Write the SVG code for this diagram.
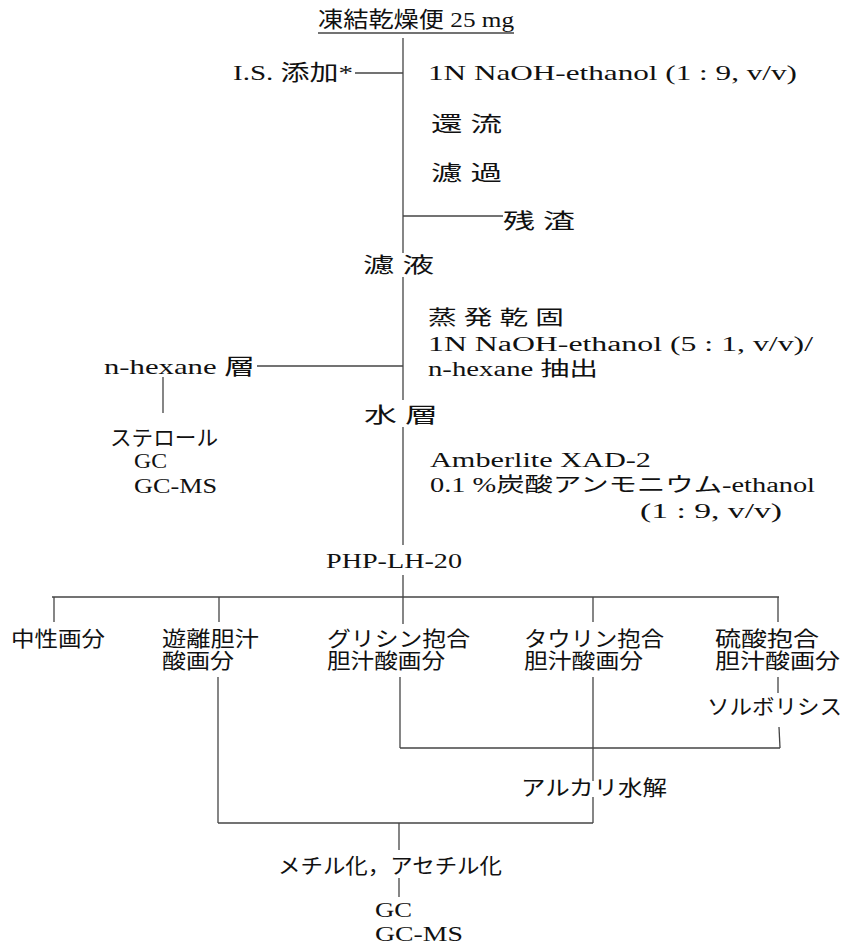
<svg xmlns="http://www.w3.org/2000/svg" width="845" height="947" viewBox="0 0 845 947">
<style>
text{font-family:"Liberation Serif","Noto Sans CJK JP",serif;font-size:22px;fill:#111;}
.j{font-size:21px;}
.s{font-size:20px;}
.c line{stroke:#444;stroke-width:1.3;fill:none;}
</style>
<rect width="845" height="947" fill="#fff"/>
<g id="connectors" class="c">
<line x1="318" y1="33" x2="514" y2="33"/>
<line x1="403" y1="38" x2="403" y2="253"/>
<line x1="355" y1="73" x2="403" y2="73"/>
<line x1="403" y1="216" x2="503" y2="216"/>
<line x1="403" y1="277" x2="403" y2="400"/>
<line x1="257" y1="366" x2="403" y2="366"/>
<line x1="163" y1="377" x2="163" y2="413"/>
<line x1="403" y1="427" x2="403" y2="545"/>
<line x1="403" y1="575" x2="403" y2="597"/>
<line x1="52" y1="597" x2="779" y2="597"/>
<line x1="54" y1="597" x2="54" y2="622"/>
<line x1="219" y1="597" x2="219" y2="622"/>
<line x1="403" y1="597" x2="403" y2="624"/>
<line x1="593" y1="597" x2="593" y2="622"/>
<line x1="778" y1="597" x2="778" y2="622"/>
<line x1="218" y1="677" x2="218" y2="823"/>
<line x1="400" y1="677" x2="400" y2="748"/>
<line x1="593" y1="677" x2="593" y2="781"/>
<line x1="593" y1="797" x2="593" y2="823"/>
<line x1="778" y1="677" x2="778" y2="693"/>
<line x1="779" y1="727" x2="780" y2="748"/>
<line x1="400" y1="748" x2="780" y2="748"/>
<line x1="218" y1="823" x2="593" y2="823"/>
<line x1="399" y1="823" x2="399" y2="850"/>
<line x1="399" y1="878" x2="399" y2="897"/>
</g>
<g id="n_title"><text x="318" y="27" textLength="196" lengthAdjust="spacingAndGlyphs">凍結乾燥便 25 mg</text></g>
<g id="n_is"><text x="233" y="80" textLength="120" lengthAdjust="spacingAndGlyphs">I.S. 添加*</text></g>
<g id="n_naoh1"><text x="428" y="80" textLength="369" lengthAdjust="spacingAndGlyphs">1N NaOH-ethanol (1 : 9, v/v)</text></g>
<g id="n_reflux"><text class="j" x="431" y="131" textLength="71" lengthAdjust="spacingAndGlyphs">還 流</text></g>
<g id="n_filter"><text class="j" x="431" y="180" textLength="71" lengthAdjust="spacingAndGlyphs">濾 過</text></g>
<g id="n_residue"><text class="j" x="503" y="228" textLength="72" lengthAdjust="spacingAndGlyphs">残 渣</text></g>
<g id="n_filtrate"><text class="j" x="363" y="272" textLength="71" lengthAdjust="spacingAndGlyphs">濾 液</text></g>
<g id="n_evap">
<text class="s" x="428" y="325" textLength="136" lengthAdjust="spacingAndGlyphs">蒸 発 乾 固</text>
<text class="s" x="428" y="351" textLength="385" lengthAdjust="spacingAndGlyphs">1N NaOH-ethanol (5 : 1, v/v)/</text>
<text class="s" x="428" y="376" textLength="170" lengthAdjust="spacingAndGlyphs">n-hexane 抽出</text>
</g>
<g id="n_hexlayer"><text x="104" y="374" textLength="151" lengthAdjust="spacingAndGlyphs">n-hexane 層</text></g>
<g id="n_sterol">
<text class="j" x="110" y="445" textLength="108" lengthAdjust="spacingAndGlyphs">ステロール</text>
<text x="134" y="468" textLength="33" lengthAdjust="spacingAndGlyphs">GC</text>
<text x="134" y="493" textLength="83" lengthAdjust="spacingAndGlyphs">GC-MS</text>
</g>
<g id="n_aqueous"><text class="j" x="364" y="422" textLength="74" lengthAdjust="spacingAndGlyphs">水 層</text></g>
<g id="n_amberlite">
<text class="s" x="430" y="467" textLength="221" lengthAdjust="spacingAndGlyphs">Amberlite XAD-2</text>
<text class="s" x="430" y="492" textLength="385" lengthAdjust="spacingAndGlyphs">0.1 %炭酸アンモニウム-ethanol</text>
<text class="s" x="640" y="518" textLength="142" lengthAdjust="spacingAndGlyphs">(1 : 9, v/v)</text>
</g>
<g id="n_php"><text x="326" y="568" textLength="136" lengthAdjust="spacingAndGlyphs">PHP-LH-20</text></g>
<g id="n_neutral"><text class="j" x="11" y="646" textLength="94" lengthAdjust="spacingAndGlyphs">中性画分</text></g>
<g id="n_free">
<text class="j" x="162" y="646" textLength="97" lengthAdjust="spacingAndGlyphs">遊離胆汁</text>
<text class="j" x="162" y="668" textLength="72" lengthAdjust="spacingAndGlyphs">酸画分</text>
</g>
<g id="n_glycine">
<text class="j" x="327" y="646" textLength="143" lengthAdjust="spacingAndGlyphs">グリシン抱合</text>
<text class="j" x="327" y="668" textLength="118" lengthAdjust="spacingAndGlyphs">胆汁酸画分</text>
</g>
<g id="n_taurine">
<text class="j" x="524" y="646" textLength="140" lengthAdjust="spacingAndGlyphs">タウリン抱合</text>
<text class="j" x="524" y="668" textLength="119" lengthAdjust="spacingAndGlyphs">胆汁酸画分</text>
</g>
<g id="n_sulfate">
<text class="j" x="715" y="646" textLength="104" lengthAdjust="spacingAndGlyphs">硫酸抱合</text>
<text class="j" x="715" y="668" textLength="125" lengthAdjust="spacingAndGlyphs">胆汁酸画分</text>
</g>
<g id="n_solvolysis"><text class="j" x="707" y="714" textLength="135" lengthAdjust="spacingAndGlyphs">ソルボリシス</text></g>
<g id="n_alkali"><text class="j" x="521" y="795" textLength="146" lengthAdjust="spacingAndGlyphs">アルカリ水解</text></g>
<g id="n_deriv"><text class="j" x="278" y="873" textLength="224" lengthAdjust="spacingAndGlyphs">メチル化，アセチル化</text></g>
<g id="n_gc">
<text x="375" y="917" textLength="37" lengthAdjust="spacingAndGlyphs">GC</text>
<text x="375" y="941" textLength="88" lengthAdjust="spacingAndGlyphs">GC-MS</text>
</g>
</svg>
